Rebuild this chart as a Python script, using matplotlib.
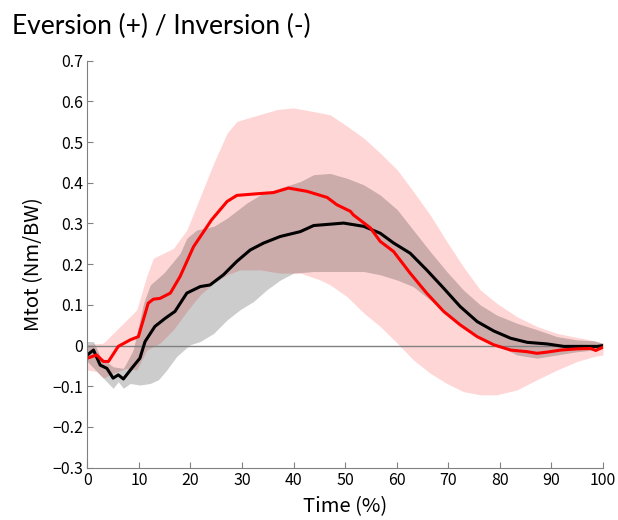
import numpy as np
import matplotlib.pyplot as plt

plt.rcParams['font.family'] = ['Noto Sans CJK JP', 'DejaVu Sans']

# 赤 (mean) と 範囲
red_t = [0, 1.8, 3.1, 4.1, 6.0, 8.3, 9.9, 11.8, 12.8, 14.1, 16.1, 18.0, 20.6, 24.1, 27.1,
         29.0, 32.9, 36.1, 39.0, 42.6, 46.5, 48.4, 51.0, 51.6, 54.9, 56.8, 59.4, 62.6,
         65.8, 69.1, 72.3, 75.6, 78.8, 82.1, 85.3, 87.2, 89.2, 91.8, 95.0, 97.6, 98.6, 100]
red_y = [-0.031, -0.023, -0.039, -0.039, -0.002, 0.014, 0.022, 0.104, 0.114, 0.116, 0.129,
         0.170, 0.243, 0.309, 0.354, 0.369, 0.373, 0.376, 0.387, 0.379, 0.364, 0.346, 0.330,
         0.321, 0.289, 0.256, 0.231, 0.178, 0.129, 0.084, 0.051, 0.022, 0.002, -0.011,
         -0.015, -0.019, -0.016, -0.011, -0.008, -0.007, -0.012, -0.004]

blk_t = [0, 1.2, 2.5, 3.8, 5.0, 6.0, 7.0, 8.6, 10.2, 11.2, 13.1, 15.1, 17.0, 19.3, 21.9,
         23.8, 26.4, 29.0, 31.6, 34.2, 37.4, 41.3, 43.9, 47.8, 49.7, 53.6, 56.8, 59.4,
         62.6, 65.8, 69.1, 72.3, 75.6, 78.8, 82.1, 85.3, 89.2, 92.4, 96.3, 98.9, 100]
blk_y = [-0.023, -0.011, -0.048, -0.056, -0.080, -0.072, -0.082, -0.056, -0.031, 0.010,
         0.047, 0.067, 0.084, 0.129, 0.145, 0.149, 0.174, 0.207, 0.235, 0.252, 0.268,
         0.280, 0.295, 0.299, 0.301, 0.293, 0.276, 0.252, 0.227, 0.186, 0.141, 0.096,
         0.059, 0.036, 0.018, 0.008, 0.004, -0.002, -0.002, -0.002, 0.0]

pink_up_t = [0, 3.1, 5.0, 7.0, 9.6, 11.5, 12.8, 14.8, 16.7, 19.3, 21.9, 24.5, 27.1, 29.0,
             32.2, 36.8, 40.0, 43.9, 47.1, 50.4, 53.6, 56.8, 60.1, 63.2, 66.5, 69.7, 72.9,
             76.2, 79.4, 83.3, 87.2, 91.1, 95.0, 98.2, 100]
pink_up = [0.002, 0.006, 0.030, 0.055, 0.088, 0.170, 0.215, 0.227, 0.239, 0.284, 0.366,
           0.448, 0.522, 0.551, 0.563, 0.580, 0.584, 0.575, 0.567, 0.539, 0.510, 0.473,
           0.432, 0.379, 0.321, 0.256, 0.194, 0.137, 0.104, 0.071, 0.047, 0.030, 0.020,
           0.012, 0.006]
pink_lo_t = [0, 1.8, 3.1, 5.0, 7.6, 9.6, 11.5, 14.1, 16.7, 19.3, 21.9, 24.5, 27.1, 29.6,
             33.5, 37.4, 41.3, 45.2, 47.1, 50.4, 53.6, 56.8, 60.1, 63.2, 66.5, 69.7, 72.9,
             76.2, 79.4, 83.3, 87.2, 91.1, 95.0, 98.2, 100]
pink_lo = [-0.060, -0.064, -0.080, -0.068, -0.056, -0.060, -0.011, 0.006, 0.039, 0.084,
           0.125, 0.153, 0.174, 0.186, 0.186, 0.178, 0.178, 0.161, 0.149, 0.120, 0.080,
           0.047, 0.006, -0.035, -0.068, -0.093, -0.113, -0.121, -0.121, -0.109, -0.084,
           -0.060, -0.039, -0.027, -0.023]

gray_up_t = [0, 1.2, 2.5, 5.0, 7.0, 8.9, 10.9, 12.2, 14.8, 16.4, 18.0, 19.3, 21.2, 24.5,
             27.1, 30.9, 33.5, 37.4, 41.3, 43.9, 47.1, 50.4, 53.6, 56.8, 60.1, 63.2, 66.5,
             69.7, 72.9, 76.2, 79.4, 83.3, 87.2, 91.1, 95.0, 98.2, 100]
gray_up = [0.010, 0.010, -0.027, -0.052, -0.056, -0.011, 0.104, 0.149, 0.178, 0.202, 0.227,
           0.264, 0.284, 0.293, 0.313, 0.350, 0.370, 0.387, 0.403, 0.420, 0.423, 0.411,
           0.395, 0.370, 0.334, 0.284, 0.231, 0.182, 0.137, 0.100, 0.075, 0.055, 0.039,
           0.022, 0.014, 0.012, 0.006]
gray_lo_t = [0, 2.5, 5.0, 6.0, 7.0, 8.3, 10.2, 12.2, 13.8, 15.4, 17.3, 19.9, 21.9, 24.5,
             27.1, 29.6, 32.2, 34.8, 37.4, 40.0, 43.9, 47.8, 50.4, 53.6, 56.8, 60.1, 63.2,
             66.5, 69.7, 72.9, 76.2, 79.4, 83.3, 87.2, 91.1, 95.0, 98.2, 100]
gray_lo = [-0.039, -0.072, -0.105, -0.089, -0.105, -0.093, -0.097, -0.093, -0.084, -0.060,
           -0.027, 0.002, 0.010, 0.030, 0.063, 0.088, 0.108, 0.137, 0.161, 0.178, 0.182,
           0.182, 0.182, 0.182, 0.174, 0.161, 0.145, 0.112, 0.080, 0.047, 0.022, 0.002,
           -0.023, -0.031, -0.023, -0.015, -0.011, -0.007]

x = np.linspace(0, 100, 401)

fig = plt.figure(figsize=(6.18, 5.2), dpi=100)
ax = fig.add_axes([0.1413, 0.1006, 0.8344, 0.7827])

ax.fill_between(x, np.interp(x, pink_lo_t, pink_lo), np.interp(x, pink_up_t, pink_up),
                color=(1, 0, 0), alpha=0.16, lw=0)
ax.fill_between(x, np.interp(x, gray_lo_t, gray_lo), np.interp(x, gray_up_t, gray_up),
                color='black', alpha=0.2, lw=0)
ax.axhline(0, color='#808080', lw=1.0)
ax.plot(blk_t, blk_y, color='black', lw=2.2)
ax.plot(red_t, red_y, color='red', lw=2.2)

ax.set_xlim(0, 100)
ax.set_ylim(-0.3, 0.7)
ax.set_xticks(np.arange(0, 101, 10))
ax.set_yticks(np.arange(-0.3, 0.71, 0.1))
ax.set_yticklabels(['\u22120.3', '\u22120.2', '\u22120.1', '0', '0.1', '0.2', '0.3',
                    '0.4', '0.5', '0.6', '0.7'])
for s in ['top', 'right']:
    ax.spines[s].set_visible(False)
for s in ['left', 'bottom']:
    ax.spines[s].set_color('#808080')
ax.tick_params(direction='in', length=4, color='#808080', labelsize=11.5, pad=3)
ax.set_xlabel('Time (%)', fontsize=14.5, labelpad=5)
ax.set_ylabel('Mtot (Nm/BW)', fontsize=14.5, labelpad=6)

fig.text(0.019, 0.935, 'Eversion (+) / Inversion (-)', fontsize=19,
         family=['Lato', 'DejaVu Sans'], ha='left', va='baseline')

fig.savefig('out.png', dpi=100)
